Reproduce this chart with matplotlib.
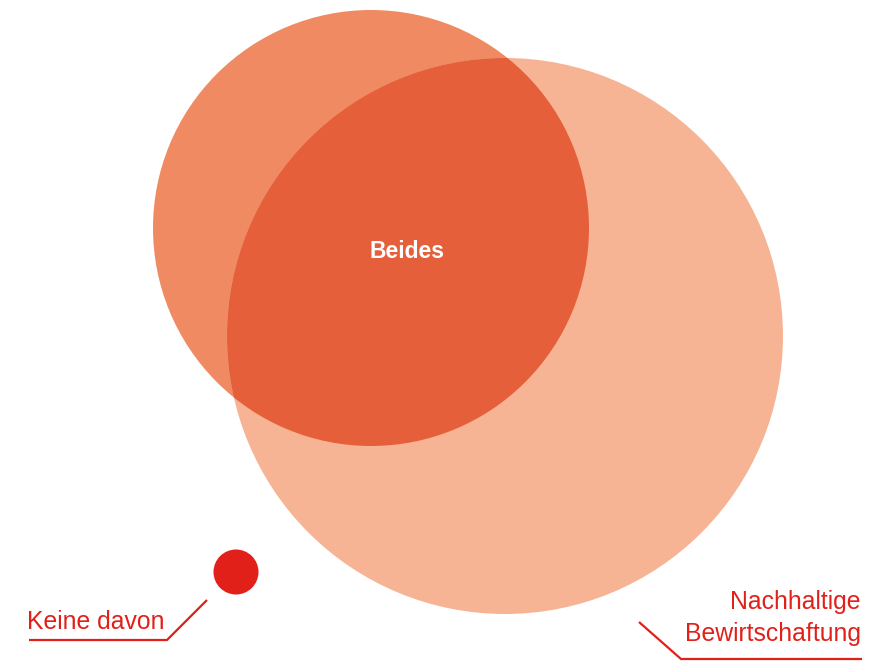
import matplotlib
matplotlib.use("Agg")
import matplotlib.pyplot as plt
from matplotlib.patches import Circle

plt.rcParams['font.family'] = ['Liberation Sans', 'DejaVu Sans']

# Sets (pixel-space geometry)
labels = ["Beides", "Nachhaltige\nBewirtschaftung", "Keine davon"]
set_names = ["A", "B", "none"]
centers_x = [371, 505, 236]
centers_y = [228, 336, 572]
radii = [218, 278, 22.5]
colors = ["#F08A62", "#F6B494", "#E2201A"]
overlap_color = "#E5603A"
text_red = "#E2201A"

fig = plt.figure(figsize=(8.81, 6.62), dpi=100)
ax = fig.add_axes([0, 0, 1, 1])
ax.set_xlim(0, 881)
ax.set_ylim(662, 0)
ax.set_aspect('equal')
ax.axis('off')

cA = Circle((centers_x[0], centers_y[0]), radii[0], color=colors[0], lw=0, zorder=1)
cB = Circle((centers_x[1], centers_y[1]), radii[1], color=colors[1], lw=0, zorder=2)
ax.add_patch(cA)
ax.add_patch(cB)
cAB = Circle((centers_x[0], centers_y[0]), radii[0], color=overlap_color, lw=0, zorder=3)
ax.add_patch(cAB)
clipB = Circle((centers_x[1], centers_y[1]), radii[1], transform=ax.transData)
cAB.set_clip_path(clipB)
cN = Circle((centers_x[2], centers_y[2]), radii[2], color=colors[2], lw=0, zorder=4)
ax.add_patch(cN)

ax.text(407, 252, labels[0], color="white", fontsize=16.5, fontweight="bold",
        ha="center", va="center", zorder=5)

# Keine davon label
ax.text(27, 629, labels[2], color=text_red, fontsize=17.8, ha="left", va="baseline", zorder=5)
ax.plot([29, 167, 207], [640, 640, 600], color=text_red, lw=1.6, zorder=5,
        solid_capstyle='butt', solid_joinstyle='miter')

# Nachhaltige Bewirtschaftung label
ax.text(861, 609, "Nachhaltige", color=text_red, fontsize=17.8, ha="right", va="baseline", zorder=5)
ax.text(861, 641, "Bewirtschaftung", color=text_red, fontsize=17.8, ha="right", va="baseline", zorder=5)
ax.plot([639, 681, 862], [622, 659, 659], color=text_red, lw=1.6, zorder=5,
        solid_capstyle='butt', solid_joinstyle='miter')

fig.savefig("out.png", dpi=100)
